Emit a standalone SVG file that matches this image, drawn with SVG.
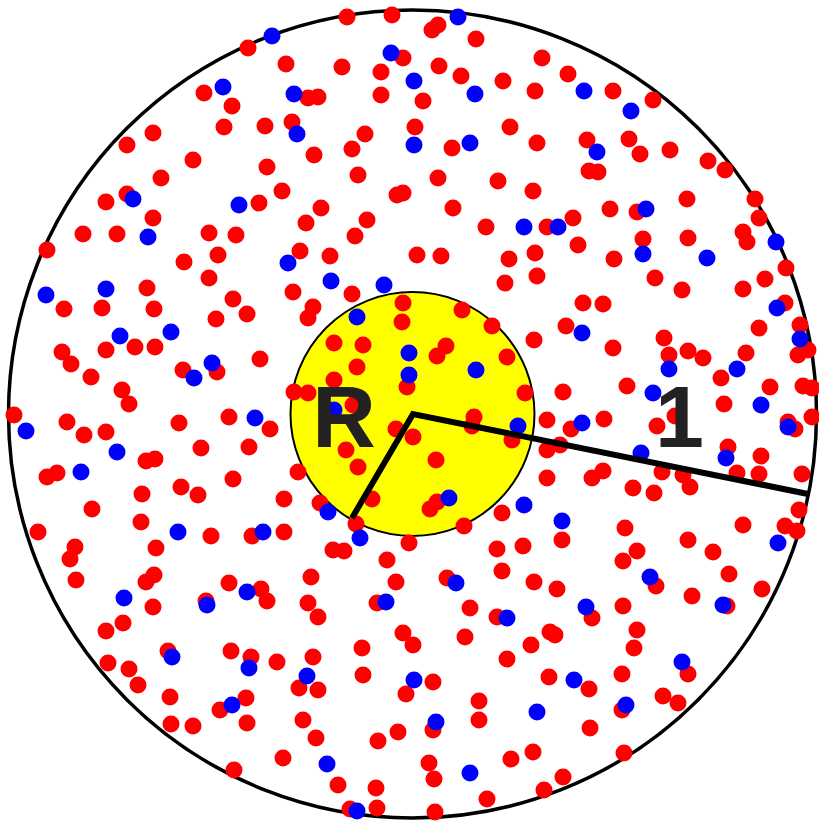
<svg xmlns="http://www.w3.org/2000/svg" xmlns:xlink="http://www.w3.org/1999/xlink" width="819" height="824" viewBox="0 0 819 824">
<style>
.outer{fill:#fff;stroke:#000;stroke-width:3.5}
.core{fill:#ffff00;stroke:#000;stroke-width:2}
.radius{fill:none;stroke:#000;stroke-width:6;stroke-linejoin:miter}
.lbl{font-family:"Liberation Sans",Arial,sans-serif;font-weight:bold;font-size:88px;fill:#222}
</style>
<defs>
<circle id="r" r="8.5" fill="#ff0000"/>
<circle id="b" r="8.5" fill="#0000ff"/>
</defs>
<rect width="819" height="824" fill="#fff"/>
<g id="outer-disk"><circle class="outer" cx="412.5" cy="414" r="404"/></g>
<g id="inner-disk"><circle class="core" cx="412.5" cy="414" r="122"/></g>
<g id="red-dots">
<use href="#r" x="248" y="48"/><use href="#r" x="286" y="64"/><use href="#r" x="204" y="93"/><use href="#r" x="232" y="106"/><use href="#r" x="224" y="127"/><use href="#r" x="265" y="126"/><use href="#r" x="153" y="133"/><use href="#r" x="127" y="145"/><use href="#r" x="193" y="160"/><use href="#r" x="267" y="167"/><use href="#r" x="161" y="178"/><use href="#r" x="282" y="191"/><use href="#r" x="127" y="194"/><use href="#r" x="106" y="202"/><use href="#r" x="259" y="203"/><use href="#r" x="153" y="218"/><use href="#r" x="83" y="234"/><use href="#r" x="117" y="234"/><use href="#r" x="209" y="233"/><use href="#r" x="236" y="235"/><use href="#r" x="47" y="250"/><use href="#r" x="218" y="255"/><use href="#r" x="184" y="262"/><use href="#r" x="209" y="278"/>
<use href="#r" x="347" y="17"/><use href="#r" x="392" y="15"/><use href="#r" x="432" y="30"/><use href="#r" x="438" y="25"/><use href="#r" x="476" y="39"/><use href="#r" x="403" y="58"/><use href="#r" x="342" y="67"/><use href="#r" x="381" y="72"/><use href="#r" x="439" y="66"/><use href="#r" x="461" y="76"/><use href="#r" x="503" y="81"/><use href="#r" x="542" y="58"/><use href="#r" x="535" y="91"/><use href="#r" x="308" y="98"/><use href="#r" x="318" y="97"/><use href="#r" x="381" y="95"/><use href="#r" x="423" y="101"/><use href="#r" x="292" y="122"/><use href="#r" x="365" y="134"/><use href="#r" x="352" y="149"/><use href="#r" x="415" y="127"/><use href="#r" x="452" y="148"/><use href="#r" x="510" y="127"/><use href="#r" x="537" y="143"/><use href="#r" x="314" y="155"/><use href="#r" x="358" y="175"/><use href="#r" x="438" y="178"/><use href="#r" x="498" y="181"/><use href="#r" x="533" y="191"/><use href="#r" x="397" y="195"/><use href="#r" x="403" y="193"/><use href="#r" x="321" y="208"/><use href="#r" x="453" y="208"/><use href="#r" x="306" y="223"/><use href="#r" x="367" y="220"/><use href="#r" x="355" y="236"/><use href="#r" x="486" y="227"/><use href="#r" x="547" y="227"/><use href="#r" x="300" y="251"/><use href="#r" x="330" y="256"/><use href="#r" x="417" y="255"/><use href="#r" x="441" y="256"/><use href="#r" x="509" y="259"/><use href="#r" x="535" y="253"/><use href="#r" x="505" y="283"/><use href="#r" x="537" y="276"/>
<use href="#r" x="568" y="74"/><use href="#r" x="613" y="91"/><use href="#r" x="653" y="100"/><use href="#r" x="587" y="140"/><use href="#r" x="629" y="139"/><use href="#r" x="640" y="154"/><use href="#r" x="670" y="150"/><use href="#r" x="708" y="161"/><use href="#r" x="725" y="170"/><use href="#r" x="589" y="171"/><use href="#r" x="598" y="172"/><use href="#r" x="687" y="199"/><use href="#r" x="755" y="199"/><use href="#r" x="759" y="218"/><use href="#r" x="610" y="209"/><use href="#r" x="637" y="212"/><use href="#r" x="573" y="218"/><use href="#r" x="578" y="245"/><use href="#r" x="643" y="239"/><use href="#r" x="614" y="259"/><use href="#r" x="688" y="238"/><use href="#r" x="743" y="232"/><use href="#r" x="747" y="242"/><use href="#r" x="786" y="268"/><use href="#r" x="655" y="278"/><use href="#r" x="765" y="279"/>
<use href="#r" x="64" y="309"/><use href="#r" x="102" y="308"/><use href="#r" x="147" y="288"/><use href="#r" x="154" y="309"/><use href="#r" x="233" y="299"/><use href="#r" x="247" y="314"/><use href="#r" x="216" y="319"/><use href="#r" x="62" y="352"/><use href="#r" x="71" y="364"/><use href="#r" x="106" y="350"/><use href="#r" x="135" y="347"/><use href="#r" x="155" y="347"/><use href="#r" x="91" y="377"/><use href="#r" x="183" y="370"/><use href="#r" x="217" y="372"/><use href="#r" x="260" y="359"/><use href="#r" x="122" y="390"/><use href="#r" x="129" y="404"/><use href="#r" x="14" y="415"/><use href="#r" x="67" y="422"/><use href="#r" x="84" y="435"/><use href="#r" x="106" y="432"/><use href="#r" x="179" y="423"/><use href="#r" x="229" y="417"/><use href="#r" x="270" y="429"/><use href="#r" x="201" y="448"/><use href="#r" x="249" y="447"/><use href="#r" x="146" y="461"/><use href="#r" x="155" y="459"/><use href="#r" x="47" y="477"/><use href="#r" x="57" y="473"/><use href="#r" x="233" y="479"/><use href="#r" x="181" y="487"/><use href="#r" x="198" y="495"/><use href="#r" x="142" y="494"/><use href="#r" x="284" y="499"/><use href="#r" x="92" y="509"/><use href="#r" x="141" y="522"/><use href="#r" x="38" y="532"/><use href="#r" x="211" y="536"/><use href="#r" x="252" y="536"/><use href="#r" x="75" y="547"/><use href="#r" x="156" y="548"/>
<use href="#r" x="293" y="292"/><use href="#r" x="352" y="294"/><use href="#r" x="313" y="307"/><use href="#r" x="308" y="318"/><use href="#r" x="403" y="303"/><use href="#r" x="402" y="322"/><use href="#r" x="462" y="310"/><use href="#r" x="492" y="326"/><use href="#r" x="534" y="340"/><use href="#r" x="334" y="343"/><use href="#r" x="363" y="345"/><use href="#r" x="446" y="346"/><use href="#r" x="437" y="356"/><use href="#r" x="507" y="357"/><use href="#r" x="357" y="367"/><use href="#r" x="407" y="387"/><use href="#r" x="334" y="380"/><use href="#r" x="294" y="392"/><use href="#r" x="308" y="393"/><use href="#r" x="525" y="393"/><use href="#r" x="353" y="405"/><use href="#r" x="396" y="429"/><use href="#r" x="413" y="437"/><use href="#r" x="474" y="417"/><use href="#r" x="472" y="426"/><use href="#r" x="512" y="440"/><use href="#r" x="547" y="420"/><use href="#r" x="547" y="450"/><use href="#r" x="346" y="450"/><use href="#r" x="358" y="467"/><use href="#r" x="436" y="460"/><use href="#r" x="298" y="472"/><use href="#r" x="547" y="478"/><use href="#r" x="320" y="503"/><use href="#r" x="372" y="499"/><use href="#r" x="437" y="502"/><use href="#r" x="430" y="509"/><use href="#r" x="502" y="513"/><use href="#r" x="356" y="524"/><use href="#r" x="464" y="526"/><use href="#r" x="284" y="532"/><use href="#r" x="409" y="543"/><use href="#r" x="333" y="550"/><use href="#r" x="344" y="551"/><use href="#r" x="497" y="549"/><use href="#r" x="523" y="546"/>
<use href="#r" x="682" y="290"/><use href="#r" x="743" y="289"/><use href="#r" x="583" y="303"/><use href="#r" x="603" y="304"/><use href="#r" x="785" y="303"/><use href="#r" x="566" y="326"/><use href="#r" x="613" y="348"/><use href="#r" x="664" y="338"/><use href="#r" x="669" y="355"/><use href="#r" x="688" y="351"/><use href="#r" x="703" y="358"/><use href="#r" x="759" y="328"/><use href="#r" x="800" y="325"/><use href="#r" x="798" y="355"/><use href="#r" x="808" y="350"/><use href="#r" x="746" y="353"/><use href="#r" x="721" y="378"/><use href="#r" x="627" y="386"/><use href="#r" x="563" y="392"/><use href="#r" x="770" y="387"/><use href="#r" x="803" y="386"/><use href="#r" x="812" y="388"/><use href="#r" x="724" y="404"/><use href="#r" x="571" y="429"/><use href="#r" x="604" y="419"/><use href="#r" x="675" y="416"/><use href="#r" x="657" y="426"/><use href="#r" x="788" y="422"/><use href="#r" x="795" y="429"/><use href="#r" x="812" y="417"/><use href="#r" x="560" y="445"/><use href="#r" x="728" y="447"/><use href="#r" x="761" y="456"/><use href="#r" x="592" y="478"/><use href="#r" x="603" y="471"/><use href="#r" x="633" y="488"/><use href="#r" x="654" y="493"/><use href="#r" x="662" y="472"/><use href="#r" x="683" y="475"/><use href="#r" x="690" y="487"/><use href="#r" x="737" y="473"/><use href="#r" x="759" y="474"/><use href="#r" x="802" y="474"/><use href="#r" x="625" y="528"/><use href="#r" x="562" y="540"/><use href="#r" x="688" y="540"/><use href="#r" x="743" y="525"/><use href="#r" x="785" y="526"/><use href="#r" x="797" y="531"/><use href="#r" x="799" y="510"/><use href="#r" x="637" y="551"/><use href="#r" x="713" y="552"/>
<use href="#r" x="70" y="559"/><use href="#r" x="76" y="580"/><use href="#r" x="154" y="575"/><use href="#r" x="146" y="582"/><use href="#r" x="153" y="607"/><use href="#r" x="206" y="601"/><use href="#r" x="229" y="583"/><use href="#r" x="261" y="589"/><use href="#r" x="267" y="601"/><use href="#r" x="123" y="623"/><use href="#r" x="106" y="631"/><use href="#r" x="168" y="651"/><use href="#r" x="231" y="651"/><use href="#r" x="251" y="657"/><use href="#r" x="277" y="662"/><use href="#r" x="108" y="663"/><use href="#r" x="129" y="669"/><use href="#r" x="138" y="685"/><use href="#r" x="170" y="697"/><use href="#r" x="246" y="698"/><use href="#r" x="220" y="710"/><use href="#r" x="247" y="723"/><use href="#r" x="171" y="724"/><use href="#r" x="193" y="726"/><use href="#r" x="283" y="758"/><use href="#r" x="234" y="770"/>
<use href="#r" x="387" y="560"/><use href="#r" x="311" y="577"/><use href="#r" x="396" y="582"/><use href="#r" x="447" y="578"/><use href="#r" x="502" y="571"/><use href="#r" x="534" y="582"/><use href="#r" x="308" y="603"/><use href="#r" x="318" y="617"/><use href="#r" x="377" y="603"/><use href="#r" x="470" y="608"/><use href="#r" x="497" y="617"/><use href="#r" x="403" y="633"/><use href="#r" x="413" y="645"/><use href="#r" x="465" y="637"/><use href="#r" x="362" y="648"/><use href="#r" x="313" y="657"/><use href="#r" x="299" y="688"/><use href="#r" x="318" y="690"/><use href="#r" x="363" y="675"/><use href="#r" x="433" y="682"/><use href="#r" x="406" y="694"/><use href="#r" x="531" y="645"/><use href="#r" x="507" y="659"/><use href="#r" x="549" y="677"/><use href="#r" x="479" y="701"/><use href="#r" x="479" y="720"/><use href="#r" x="433" y="730"/><use href="#r" x="303" y="720"/><use href="#r" x="316" y="738"/><use href="#r" x="398" y="732"/><use href="#r" x="378" y="741"/><use href="#r" x="429" y="763"/><use href="#r" x="434" y="779"/><use href="#r" x="511" y="759"/><use href="#r" x="533" y="752"/><use href="#r" x="338" y="785"/><use href="#r" x="376" y="788"/><use href="#r" x="487" y="799"/><use href="#r" x="544" y="790"/><use href="#r" x="350" y="809"/><use href="#r" x="377" y="808"/><use href="#r" x="435" y="812"/>
<use href="#r" x="623" y="561"/><use href="#r" x="729" y="574"/><use href="#r" x="656" y="586"/><use href="#r" x="557" y="589"/><use href="#r" x="692" y="596"/><use href="#r" x="762" y="589"/><use href="#r" x="727" y="606"/><use href="#r" x="592" y="618"/><use href="#r" x="623" y="606"/><use href="#r" x="637" y="630"/><use href="#r" x="634" y="648"/><use href="#r" x="550" y="632"/><use href="#r" x="555" y="635"/><use href="#r" x="688" y="674"/><use href="#r" x="622" y="674"/><use href="#r" x="589" y="689"/><use href="#r" x="663" y="696"/><use href="#r" x="678" y="703"/><use href="#r" x="622" y="710"/><use href="#r" x="590" y="728"/><use href="#r" x="624" y="753"/><use href="#r" x="563" y="777"/>
</g>
<g id="blue-dots">
<use href="#b" x="272" y="36"/><use href="#b" x="223" y="87"/><use href="#b" x="133" y="199"/><use href="#b" x="239" y="205"/><use href="#b" x="148" y="237"/><use href="#b" x="288" y="263"/>
<use href="#b" x="458" y="17"/><use href="#b" x="391" y="53"/><use href="#b" x="414" y="81"/><use href="#b" x="294" y="94"/><use href="#b" x="475" y="94"/><use href="#b" x="297" y="134"/><use href="#b" x="414" y="145"/><use href="#b" x="470" y="143"/><use href="#b" x="524" y="227"/><use href="#b" x="331" y="281"/><use href="#b" x="384" y="285"/>
<use href="#b" x="584" y="91"/><use href="#b" x="631" y="111"/><use href="#b" x="597" y="152"/><use href="#b" x="646" y="209"/><use href="#b" x="558" y="227"/><use href="#b" x="643" y="254"/><use href="#b" x="776" y="242"/><use href="#b" x="707" y="258"/>
<use href="#b" x="46" y="295"/><use href="#b" x="106" y="289"/><use href="#b" x="120" y="336"/><use href="#b" x="171" y="332"/><use href="#b" x="212" y="363"/><use href="#b" x="194" y="378"/><use href="#b" x="26" y="431"/><use href="#b" x="117" y="452"/><use href="#b" x="255" y="418"/><use href="#b" x="81" y="472"/><use href="#b" x="178" y="532"/><use href="#b" x="263" y="532"/>
<use href="#b" x="357" y="317"/><use href="#b" x="409" y="353"/><use href="#b" x="476" y="370"/><use href="#b" x="409" y="375"/><use href="#b" x="334" y="410"/><use href="#b" x="518" y="426"/><use href="#b" x="328" y="512"/><use href="#b" x="449" y="498"/><use href="#b" x="524" y="505"/><use href="#b" x="360" y="538"/>
<use href="#b" x="777" y="308"/><use href="#b" x="582" y="333"/><use href="#b" x="800" y="339"/><use href="#b" x="737" y="369"/><use href="#b" x="669" y="369"/><use href="#b" x="653" y="393"/><use href="#b" x="761" y="405"/><use href="#b" x="582" y="423"/><use href="#b" x="788" y="427"/><use href="#b" x="641" y="453"/><use href="#b" x="726" y="458"/><use href="#b" x="562" y="521"/><use href="#b" x="778" y="543"/>
<use href="#b" x="124" y="598"/><use href="#b" x="207" y="605"/><use href="#b" x="247" y="592"/><use href="#b" x="172" y="657"/><use href="#b" x="249" y="668"/><use href="#b" x="232" y="705"/>
<use href="#b" x="456" y="583"/><use href="#b" x="386" y="602"/><use href="#b" x="507" y="618"/><use href="#b" x="307" y="676"/><use href="#b" x="414" y="680"/><use href="#b" x="537" y="712"/><use href="#b" x="436" y="722"/><use href="#b" x="327" y="764"/><use href="#b" x="470" y="773"/><use href="#b" x="357" y="811"/>
<use href="#b" x="650" y="577"/><use href="#b" x="723" y="605"/><use href="#b" x="586" y="607"/><use href="#b" x="682" y="662"/><use href="#b" x="574" y="680"/><use href="#b" x="626" y="705"/>
</g>
<g id="radii"><polyline class="radius" points="352,518 413,414 808,494"/></g>
<g id="labels">
<text class="lbl" x="344" y="447" text-anchor="middle">R</text>
<text class="lbl" x="655" y="447">1</text>
</g>
</svg>
